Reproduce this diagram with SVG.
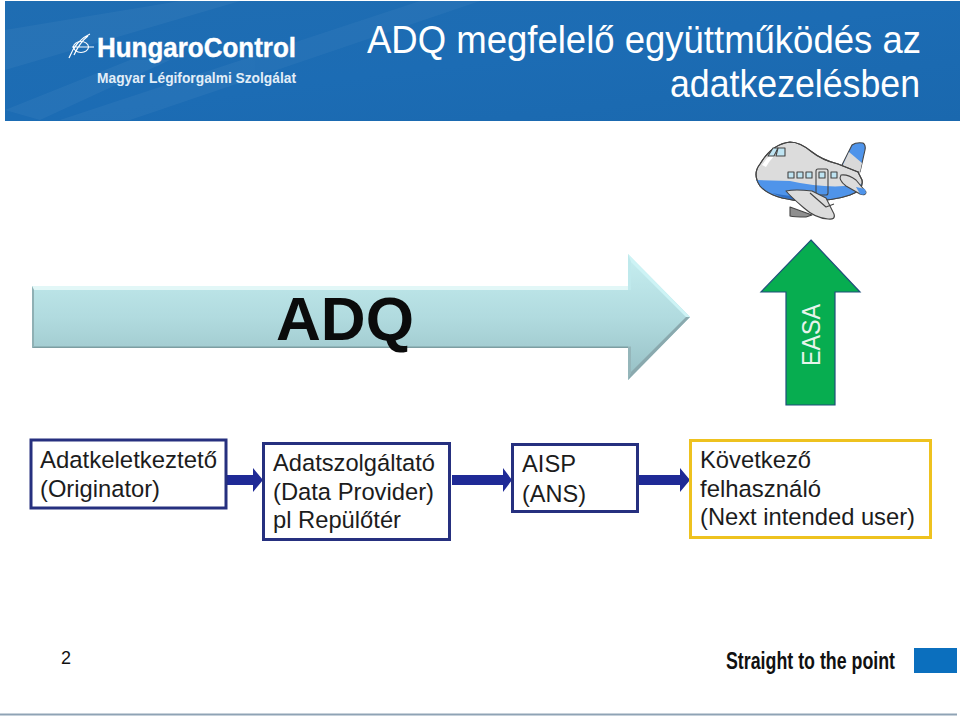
<svg xmlns="http://www.w3.org/2000/svg" width="960" height="716" viewBox="0 0 960 716">
<style>
.s{font-family:"Liberation Sans",Arial,sans-serif}
.t{font-size:24.500px;fill:#1c1c1c}
.box{fill:#fff;stroke:#26307f;stroke-width:3}
.conn{fill:#1f2a96}
.pl{stroke:#444;stroke-width:1.1;stroke-linejoin:round}
</style>
<defs>
<linearGradient id="hdr" x1="0" y1="0" x2="1" y2="1">
<stop offset="0" stop-color="#1f6db2"/><stop offset=".5" stop-color="#1c6cb4"/><stop offset="1" stop-color="#1a68ae"/>
</linearGradient>
<linearGradient id="big" x1="0" y1="0" x2="0" y2="1">
<stop offset="0" stop-color="#c6eef0"/><stop offset=".5" stop-color="#b1dbdf"/><stop offset="1" stop-color="#96bfc4"/>
</linearGradient>
</defs>

<g id="header">
<rect x="5" y="1" width="955" height="120" fill="url(#hdr)"/>
<g fill="#fff" opacity=".04">
<path d="M5 30 L180 1 L240 1 L5 70Z"/><path d="M60 120 L420 1 L480 1 L130 120Z"/><path d="M5 110 L130 60 L170 60 L40 120Z"/>
</g>
<g fill="none" stroke="#fff" stroke-width="1.2">
<ellipse cx="81" cy="47" rx="7.500" ry="5.500"/>
<path d="M69 58 Q76 40 90 34 M74 55 Q80 42 88 36 M72 47 H94"/>
</g>
<text class="s" x="97" y="57" font-size="28" font-weight="700" fill="#fff" stroke="#fff" stroke-width=".4" textLength="199" lengthAdjust="spacingAndGlyphs">HungaroControl</text>
<text class="s" x="97" y="83" font-size="15" font-weight="700" fill="#e2eef8" textLength="199" lengthAdjust="spacingAndGlyphs">Magyar Légiforgalmi Szolgálat</text>
<text class="s" x="921" y="53" font-size="39" fill="#fff" text-anchor="end" textLength="554" lengthAdjust="spacingAndGlyphs">ADQ megfelelő együttműködés az</text>
<text class="s" x="920" y="97" font-size="39" fill="#fff" text-anchor="end" textLength="250" lengthAdjust="spacingAndGlyphs">adatkezelésben</text>
</g>

<g id="plane">
<path class="pl" d="M842 165 L852 145 Q856 142 863 143 Q866 145 865 150 L860 172Z" fill="#4f94ea"/>
<path d="M849 152 L862 163 L860 172 L842 167Z" fill="#d9d9d9"/>
<path class="pl" d="M790 142 Q800 142 812 152 Q822 160 838 164 L858 172 L862 180 Q864 190 850 195 Q830 202 800 201 Q770 198 760 186 Q752 174 760 164 Q772 144 790 142Z" fill="#dcdcdc"/>
<path d="M756 180 L790 181 Q830 190 862 184 Q862 190 850 195 Q830 202 800 201 Q770 198 760 186Z" fill="#4f94ea"/>
<path d="M772 193 Q790 197 812 197 L830 199 Q815 202 800 201 Q785 199 772 193Z" fill="#2f6fc4"/>
<path d="M762 165 Q770 152 782 150 Q772 156 766 167Z" fill="#fff"/>
<path class="pl" d="M790 142 Q800 142 812 152 Q822 160 838 164 L858 172 L862 180 Q864 190 850 195 Q830 202 800 201 Q770 198 760 186 Q752 174 760 164 Q772 144 790 142Z" fill="none"/>
<path class="pl" d="M768 156 L773 148 L778 148 L774 156Z" fill="#bfe4f2"/>
<path class="pl" d="M776 156 L778 148 L785 148 L785 156Z" fill="#bfe4f2"/>
<g class="pl" fill="#bfe4f2">
<rect x="788" y="172" width="6" height="6"/><rect x="797" y="172" width="6" height="6"/><rect x="806" y="172" width="6" height="6"/><rect x="819" y="172" width="6" height="6"/><rect x="831" y="172" width="6" height="6"/>
</g>
<rect class="pl" x="816" y="169" width="12" height="26" rx="2" fill="none"/>
<path class="pl" d="M841 175 Q848 174 856 180 L866 192 Q866 196 860 194 L846 186 Q838 180 841 175Z" fill="#dcdcdc"/>
<path d="M856 187 L865 189 L866 193 Q864 196 860 194Z" fill="#4f94ea"/>
<path class="pl" d="M790 207 L790 216 Q794 217 806 217 L812 215Z" fill="#8f8f8f"/>
<path class="pl" d="M786 191 Q795 189 812 191 L826 198 L834 214 Q836 220 828 219 Q815 218 804 208 Q790 196 786 191Z" fill="#dcdcdc"/>
<path class="pl" d="M810 193 L826 207 L834 204" fill="none"/>
</g>

<g id="adq-arrow">
<path d="M32 286 H628 V254 L690 317 L628 380 V348 H32Z" fill="url(#big)"/>
<path d="M32 286 H628 V290 H34Z" fill="#e2f7f7"/>
<path d="M32 348 H628 V346.500 H34Z" fill="#7d9ea2"/>
<path d="M32 286 L34 290 V346.500 L32 348Z" fill="#8fb0b4"/>
<path d="M628 254 L690 317 L686 317 L631 262Z" fill="#cdf3f5"/>
<path d="M628 380 L690 317 L686 317 L631 372Z" fill="#8aa9ae"/>
<path d="M628 254 L631 262 V290 H628Z" fill="#bfe9ec"/>
<path d="M628 380 L631 372 V346.500 H628Z" fill="#95b6ba"/>
<text class="s" x="345" y="340" font-size="61" font-weight="700" fill="#0b0b0b" text-anchor="middle" textLength="138" lengthAdjust="spacingAndGlyphs">ADQ</text>
</g>

<g id="easa-arrow">
<path d="M811 240 L860 292 H835 V405 H786 V292 H761Z" fill="#07ad50" stroke="#1f4f7a" stroke-width="1.2"/>
<text class="s" transform="translate(819.500,366) rotate(-90)" font-size="25" fill="#e8f4ec" textLength="62" lengthAdjust="spacingAndGlyphs">EASA</text>
</g>

<g id="connectors">
<path class="conn" d="M226 475 H253 V468 L263 480 L253 492 V485 H226Z"/>
<path class="conn" d="M452 475 H503 V468 L512 480 L503 492 V485 H452Z"/>
<path class="conn" d="M639 475 H680 V468 L690 480 L680 492 V485 H639Z"/>
</g>

<g id="originator">
<rect class="box" x="31" y="440" width="195" height="68"/>
<text class="s t" x="40" y="468" textLength="177" lengthAdjust="spacingAndGlyphs">Adatkeletkeztető</text>
<text class="s t" x="40" y="497" textLength="120" lengthAdjust="spacingAndGlyphs">(Originator)</text>
</g>
<g id="data-provider">
<rect class="box" x="263.500" y="443.500" width="186" height="96"/>
<text class="s t" x="273" y="471" textLength="162" lengthAdjust="spacingAndGlyphs">Adatszolgáltató</text>
<text class="s t" x="273" y="500" textLength="161" lengthAdjust="spacingAndGlyphs">(Data Provider)</text>
<text class="s t" x="273" y="528" textLength="128" lengthAdjust="spacingAndGlyphs">pl Repülőtér</text>
</g>
<g id="aisp">
<rect class="box" x="512.500" y="444.500" width="125" height="67"/>
<text class="s t" x="522" y="472" textLength="54" lengthAdjust="spacingAndGlyphs">AISP</text>
<text class="s t" x="522" y="502" textLength="64" lengthAdjust="spacingAndGlyphs">(ANS)</text>
</g>
<g id="next-user">
<rect x="690.500" y="440.500" width="240" height="97" fill="#fff" stroke="#eec21f" stroke-width="3"/>
<text class="s t" x="700" y="468" textLength="111" lengthAdjust="spacingAndGlyphs">Következő</text>
<text class="s t" x="700" y="497" textLength="121" lengthAdjust="spacingAndGlyphs">felhasználó</text>
<text class="s t" x="700" y="525" textLength="215" lengthAdjust="spacingAndGlyphs">(Next intended user)</text>
</g>

<g id="footer">
<text class="s" x="61" y="664" font-size="18" fill="#111">2</text>
<text class="s" x="726" y="669" font-size="23" font-weight="700" fill="#111" textLength="169" lengthAdjust="spacingAndGlyphs">Straight to the point</text>
<rect x="914" y="648" width="43" height="25" fill="#0b6fbe"/>
<rect x="0" y="713.500" width="957" height="2" fill="#8fa3b5"/>
</g>
</svg>
